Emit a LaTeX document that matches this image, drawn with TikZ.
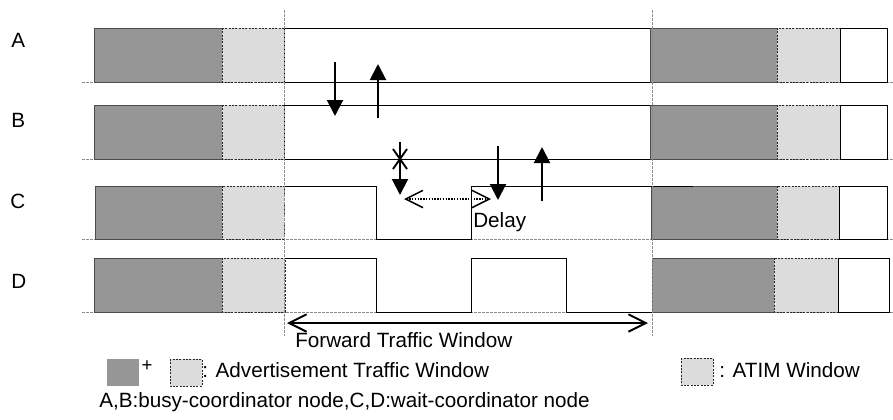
\documentclass[tikz,border=0pt]{standalone}
\usepackage{fontspec}
\setmainfont{Liberation Sans}
\usetikzlibrary{arrows.meta}
\definecolor{busygray}{RGB}{150,150,150}
\definecolor{atimgray}{RGB}{220,220,220}
\begin{document}
\begin{tikzpicture}[x=0.75pt,y=-0.75pt,
  lbl/.style={font=\fontsize{15.5}{18}\selectfont, inner sep=0pt, anchor=base west},
  busy/.style={fill=busygray, draw=black!70, line width=0.6pt},
  atim/.style={fill=atimgray, draw=black!85, line width=0.6pt, dash pattern=on 1.5pt off 1pt},
  idle/.style={draw=black, line width=0.6pt},
  ground/.style={draw=black!45, line width=0.5pt, dash pattern=on 2pt off 1pt},
  guide/.style={draw=black!45, line width=0.5pt, dash pattern=on 2pt off 1pt},
  signal/.style={draw=black, line width=0.6pt},
  msg/.style={draw=black, line width=1.5pt, -{Triangle[length=12pt,width=12pt]}},
  span/.style={draw=black, line width=1.2pt,
    {Straight Barb[length=13pt,width=13pt]}-{Straight Barb[length=13pt,width=13pt]}},
]
\useasboundingbox (0,0) rectangle (893,419);

% busy-coordinator rows A and B
\foreach \yt/\yb in {28/82,105/159} {
  \draw[ground] (82,\yb) -- (893,\yb);
  \draw[busy] (94,\yt) rectangle (222,\yb);
  \draw[atim] (222,\yt) rectangle (284,\yb);
  \draw[idle] (284,\yt) rectangle (650,\yb);
  \draw[busy] (650,\yt) rectangle (777,\yb);
  \draw[atim] (777,\yt) rectangle (840,\yb);
  \draw[idle] (840,\yt) rectangle (887,\yb);
}

% row C
\draw[ground] (82,239) -- (893,239);
\draw[busy] (95,186) rectangle (222,239);
\draw[atim] (222,186) rectangle (284,239);
\draw[signal] (284,186) -- (376,186) -- (376,239) -- (471,239) -- (471,186) -- (651,186);
\draw[busy] (651,186) rectangle (777,239);
\draw[atim] (777,186) rectangle (839,239);
\draw[idle] (839,186) rectangle (887,239);
\draw[signal] (651,186) -- (693,186);

% row D
\draw[ground] (82,312) -- (893,312);
\draw[busy] (94,258) rectangle (222,312);
\draw[atim] (222,258) rectangle (285,312);
\draw[signal] (285,258) -- (376,258) -- (376,312) -- (471,312) -- (471,258)
  -- (566,258) -- (566,312) -- (652,312);
\draw[busy] (652,258) rectangle (774,312);
\draw[atim] (774,258) rectangle (838,312);
\draw[idle] (838,258) rectangle (889,312);

% window boundaries
\draw[guide] (284,10) -- (284,336);
\draw[guide] (652,10) -- (652,336);

% node labels
\node[lbl] (labA) at (11,47) {A};
\node[lbl] (labB) at (11,127) {B};
\node[lbl] (labC) at (10,208) {C};
\node[lbl] (labD) at (11,288) {D};

% frame exchanges
\coordinate (m1s) at (335,62);  \coordinate (m1e) at (335,116);
\coordinate (m2s) at (378,118); \coordinate (m2e) at (378,64);
\coordinate (m3s) at (400,142); \coordinate (m3e) at (400,195);
\coordinate (m4s) at (498,146); \coordinate (m4e) at (498,200);
\coordinate (m5s) at (542,201); \coordinate (m5e) at (542,147);
\draw[msg] (m1s) -- (m1e);
\draw[msg] (m2s) -- (m2e);
\draw[msg] (m3s) -- (m3e);
\draw[msg] (m4s) -- (m4e);
\draw[msg] (m5s) -- (m5e);

% lost frame mark
\coordinate (lost) at (400,159);
\draw[line width=1.4pt] ([shift={(-7,-10)}]lost) -- ([shift={(7,10)}]lost);
\draw[line width=1.4pt] ([shift={(7,-10)}]lost) -- ([shift={(-7,10)}]lost);

% delay span
\coordinate (dl) at (404,199); \coordinate (dr) at (491,199);
\draw[span, line width=1.1pt, densely dotted] (dl) -- (dr);
\node[lbl] (delay) at (473,227) {Delay};

% forward traffic window span
\coordinate (fl) at (287,323); \coordinate (fr) at (648,323);
\draw[span, line width=1.5pt] (fl) -- (fr);
\node[lbl] (ftw) at (295,347) {Forward Traffic Window};

% legend
\path[fill=busygray] (107,359) rectangle (139,386);
\node[font=\fontsize{14}{15}\selectfont, inner sep=0pt] (plus) at (147,366) {+};
\draw[atim] (170,359) rectangle (202,386);
\node[lbl] (advtxt) at (202,377) {: Advertisement Traffic Window};
\draw[atim] (681,358) rectangle (713,385);
\node[lbl] (atimtxt) at (719,377) {: ATIM Window};
\node[lbl] (note) at (99,407) {A,B:busy-coordinator node,C,D:wait-coordinator node};
\end{tikzpicture}
\end{document}
